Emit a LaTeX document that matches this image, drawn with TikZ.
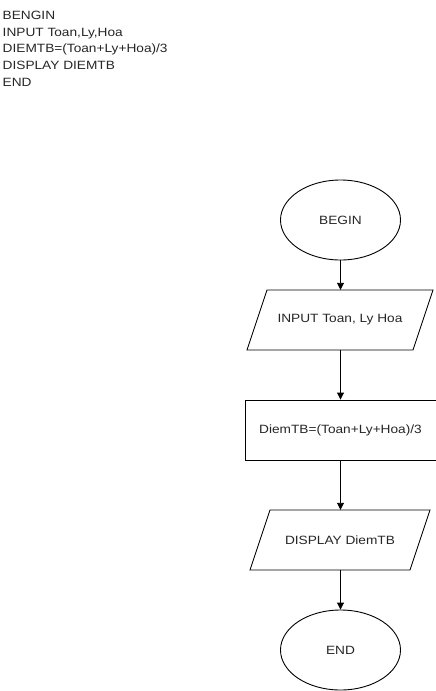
\documentclass[tikz,border=0pt]{standalone}
\usepackage{fontspec}
\setmainfont[FakeStretch=1.14]{Liberation Sans}
\usetikzlibrary{shapes.geometric,arrows.meta}
\begin{document}
\begin{tikzpicture}[x=1pt,y=-1pt,
  txt/.style={font=\fontsize{12}{16.75}\selectfont, text=black!85},
  term/.style={ellipse, draw, line width=0.9pt, minimum width=120pt, minimum height=80pt, inner sep=0pt, txt},
  proc/.style={rectangle, draw, line width=0.9pt, minimum width=191pt, minimum height=60pt, inner sep=0pt, txt},
  flow/.style={draw, line width=0.9pt, -{Triangle[length=7pt,width=7pt]}}]
\useasboundingbox (0,0) rectangle (436,691);
\node[txt, anchor=north west, align=left, inner sep=0pt] (code) at (2.5,10.8)
  {BENGIN\\INPUT Toan,Ly,Hoa\\DIEMTB=(Toan+Ly+Hoa)/3\\DISPLAY DIEMTB\\END};
\node[term] (begin) at (340.5,220) {BEGIN};
\draw[line width=0.9pt] (267,290) -- (433,290) -- (413,350) -- (247,350) -- cycle;
\node[txt, minimum width=166pt, minimum height=60pt, inner sep=0pt] (input) at (340,320) {INPUT Toan, Ly Hoa};
\node[proc] (calc) at (340.5,430) {DiemTB=(Toan+Ly+Hoa)/3};
\draw[line width=0.9pt] (270,510) -- (430,510) -- (410,570) -- (250,570) -- cycle;
\node[txt, minimum width=160pt, minimum height=60pt, inner sep=0pt] (disp) at (340,540) {DISPLAY DiemTB};
\node[term] (end) at (340.5,650) {END};
\draw[flow] (begin.south) -- (begin.south |- input.north);
\draw[flow] (begin.south |- input.south) -- (begin.south |- calc.north);
\draw[flow] (calc.south) -- (calc.south |- disp.north);
\draw[flow] (calc.south |- disp.south) -- (end.north);
\end{tikzpicture}
\end{document}
